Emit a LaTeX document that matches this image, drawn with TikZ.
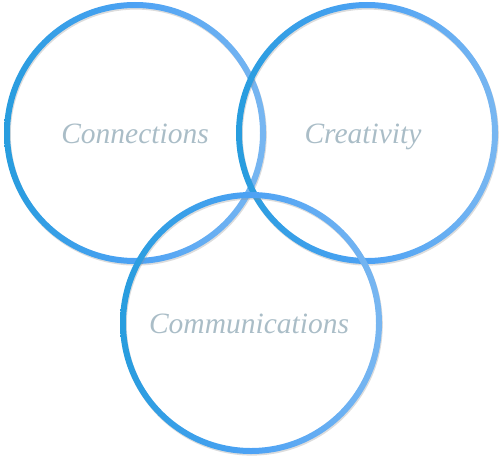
\documentclass[tikz,border=0pt]{standalone}
\usepackage{fontspec}
\setmainfont{Liberation Serif}
\definecolor{ringleft}{HTML}{0898CC}
\definecolor{ringmid}{HTML}{4DA2F4}
\definecolor{ringright}{HTML}{A4CBEE}
\definecolor{labelgray}{HTML}{AABDC7}
\pgfdeclarehorizontalshading{ringshade}{100bp}{color(0bp)=(ringleft); color(4bp)=(ringleft); color(50bp)=(ringmid); color(100bp)=(ringright)}
\begin{document}
\begin{tikzpicture}[x=1pt,y=-1pt,
  ringlabel/.style={font=\itshape\fontsize{29.5}{31}\selectfont, text=labelgray, inner sep=0pt, anchor=base}]
\useasboundingbox (0,0) rectangle (500,460);
\coordinate (c1) at (135,133);
\coordinate (c2) at (367,133);
\coordinate (c3) at (251,323);
\foreach \c in {c1,c2,c3}{
  \draw[black!45, opacity=0.3, line width=6pt] ([shift={(0.8,1.6)}]\c) circle (128);
  \shade[shading=ringshade, even odd rule] (\c) circle (131) (\c) circle (125);
}
\node[ringlabel] (t1) at (135,143) {Connections};
\node[ringlabel] (t2) at (363,143) {Creativity};
\node[ringlabel] (t3) at (249,333) {Communications};
\end{tikzpicture}
\end{document}
